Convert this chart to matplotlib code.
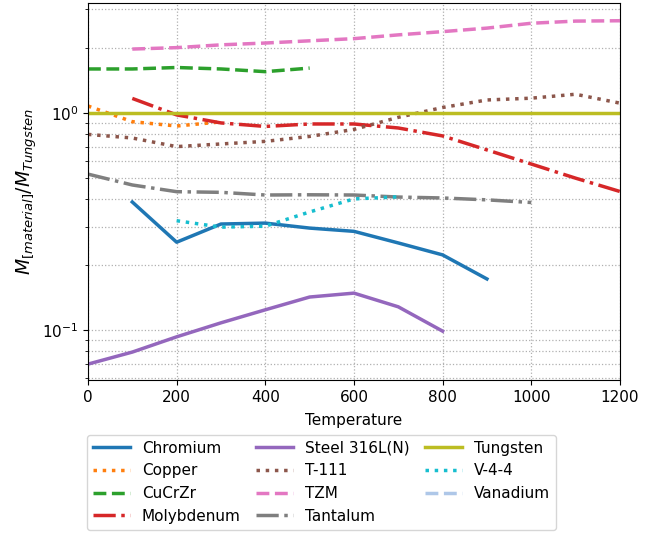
import matplotlib
matplotlib.use("Agg")
import matplotlib.pyplot as plt
import numpy as np

# temperatures and ratios M_material / M_tungsten
chromium_t = [100, 200, 300, 400, 500, 600, 700, 800, 900]
chromium_v = [0.389, 0.254, 0.308, 0.311, 0.295, 0.285, 0.252, 0.222, 0.172]

copper_t = [0, 100, 200, 300]
copper_v = [1.077, 0.912, 0.871, 0.91]

cucrzr_t = [0, 100, 200, 300, 400, 500]
cucrzr_v = [1.595, 1.595, 1.62, 1.595, 1.55, 1.61]

moly_t = [100, 200, 300, 400, 500, 600, 700, 800, 900, 1000, 1100, 1200]
moly_v = [1.167, 0.98, 0.90, 0.867, 0.89, 0.89, 0.853, 0.784, 0.676, 0.582, 0.501, 0.435]

steel_t = [0, 100, 200, 300, 400, 500, 600, 700, 800]
steel_v = [0.0697, 0.0792, 0.0931, 0.108, 0.124, 0.142, 0.148, 0.128, 0.0989]

t111_t = [0, 100, 200, 300, 400, 500, 600, 700, 800, 900, 1000, 1100, 1200]
t111_v = [0.797, 0.767, 0.70, 0.72, 0.74, 0.78, 0.84, 0.955, 1.06, 1.148, 1.17, 1.22, 1.11]

tzm_t = [100, 200, 300, 400, 500, 600, 700, 800, 900, 1000, 1100, 1200]
tzm_v = [1.97, 2.00, 2.06, 2.10, 2.15, 2.20, 2.29, 2.37, 2.46, 2.59, 2.65, 2.66]

tantalum_t = [0, 100, 200, 300, 400, 500, 600, 700, 800, 900, 1000]
tantalum_v = [0.523, 0.466, 0.434, 0.431, 0.419, 0.42, 0.419, 0.41, 0.406, 0.398, 0.387]

tungsten_t = [0, 100, 200, 300, 400, 500, 600, 700, 800, 900, 1000, 1100, 1200]
tungsten_v = [1.0] * 13

v44_t = [200, 300, 400, 500, 600, 700]
v44_v = [0.319, 0.298, 0.301, 0.350, 0.402, 0.411]

vanadium_t = []
vanadium_v = []

series = [
    ("Chromium", chromium_t, chromium_v, "#1f77b4", "-"),
    ("Copper", copper_t, copper_v, "#ff7f0e", ":"),
    ("CuCrZr", cucrzr_t, cucrzr_v, "#2ca02c", "--"),
    ("Molybdenum", moly_t, moly_v, "#d62728", "-."),
    ("Steel 316L(N)", steel_t, steel_v, "#9467bd", "-"),
    ("T-111", t111_t, t111_v, "#8c564b", ":"),
    ("TZM", tzm_t, tzm_v, "#e377c2", "--"),
    ("Tantalum", tantalum_t, tantalum_v, "#7f7f7f", "-."),
    ("Tungsten", tungsten_t, tungsten_v, "#bcbd22", "-"),
    ("V-4-4", v44_t, v44_v, "#17becf", ":"),
    ("Vanadium", vanadium_t, vanadium_v, "#aec7e8", "--"),
]

plt.rcParams['font.size'] = 11

fig = plt.figure(figsize=(6.68, 5.4), dpi=100)
ax = fig.add_axes([0.1317, 0.2963, 0.7963, 0.6981])

for name, t, v, c, ls in series:
    ax.plot(t, v, color=c, linestyle=ls, linewidth=2.5, label=name)

ax.set_yscale('log')
ax.set_xlim(0, 1200)
ax.set_ylim(0.0589, 3.21)
ax.grid(True, which='both', linestyle=':', color='#b0b0b0', linewidth=0.9)
ax.set_xlabel('Temperature', labelpad=6)
ax.set_ylabel(r'$M_{[material]}/M_{Tungsten}$', fontsize=13.5, labelpad=2)

ax.legend(loc='upper left', bbox_to_anchor=(-0.002, -0.145), ncol=3,
          frameon=True, fontsize=11, handlelength=2.4, columnspacing=1.0,
          borderaxespad=0.0)

fig.savefig('out.png', dpi=100)
